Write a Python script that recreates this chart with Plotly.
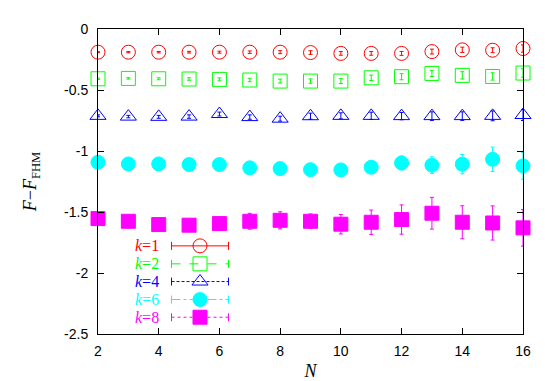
import plotly.graph_objects as go

N = list(range(2, 17))
k_labels = ["1", "2", "4", "6", "8"]
colors = ["#ff0000", "#00ff00", "#0000ff", "#00ffff", "#ff00ff"]
symbols = ["circle-open", "square-open", "triangle-up-open", "circle", "square"]
dashes = ["solid", "dash", "3px,2px", "dashdot", "dot"]

y_k1 = [-0.19, -0.19, -0.19, -0.19, -0.19, -0.19, -0.19, -0.193, -0.20, -0.20, -0.20, -0.185, -0.171, -0.174, -0.16]
e_k1 = [0.004, 0.005, 0.006, 0.007, 0.008, 0.010, 0.012, 0.015, 0.015, 0.015, 0.016, 0.02, 0.022, 0.02, 0.03]
y_k2 = [-0.408, -0.405, -0.408, -0.41, -0.413, -0.418, -0.427, -0.427, -0.427, -0.40, -0.391, -0.364, -0.38, -0.389, -0.361]
e_k2 = [0.005, 0.006, 0.008, 0.01, 0.012, 0.014, 0.016, 0.018, 0.02, 0.022, 0.025, 0.025, 0.03, 0.03, 0.035]
y_k4 = [-0.712, -0.718, -0.72, -0.718, -0.697, -0.722, -0.735, -0.715, -0.712, -0.712, -0.714, -0.714, -0.714, -0.712, -0.705]
e_k4 = [0.008, 0.01, 0.012, 0.014, 0.016, 0.018, 0.02, 0.025, 0.025, 0.03, 0.03, 0.035, 0.035, 0.04, 0.045]
y_k6 = [-1.092, -1.106, -1.106, -1.111, -1.111, -1.138, -1.144, -1.153, -1.155, -1.133, -1.098, -1.116, -1.108, -1.068, -1.122]
e_k6 = [0.01, 0.012, 0.015, 0.018, 0.02, 0.022, 0.025, 0.03, 0.035, 0.04, 0.057, 0.068, 0.079, 0.10, 0.11]
y_k8 = [-1.554, -1.576, -1.603, -1.608, -1.595, -1.576, -1.568, -1.576, -1.60, -1.584, -1.562, -1.51, -1.584, -1.59, -1.63]
e_k8 = [0.02, 0.03, 0.035, 0.04, 0.05, 0.065, 0.07, 0.06, 0.08, 0.10, 0.12, 0.13, 0.135, 0.14, 0.15]

x_ticks = [2, 4, 6, 8, 10, 12, 14, 16]
y_ticks = [0, -0.5, -1, -1.5, -2, -2.5]
y_ticktext = ["0", "-0.5", "-1", "-1.5", "-2", "-2.5"]

series_y = [y_k1, y_k2, y_k4, y_k6, y_k8]
series_e = [e_k1, e_k2, e_k4, e_k6, e_k8]

fig = go.Figure()
for i in range(5):
    fig.add_trace(go.Scatter(
        x=N, y=series_y[i], mode="markers",
        marker=dict(symbol=symbols[i], size=14, color=colors[i],
                    line=dict(width=1, color=colors[i])),
        error_y=dict(type="data", array=series_e[i], color=colors[i], thickness=1, width=2),
        showlegend=False, cliponaxis=False,
    ))

# manual legend on hidden overlay axes (0..1 units)
leg_rows = [0.289, 0.230, 0.172, 0.113, 0.055]
lx0, lx1, lxm = 0.173, 0.307, 0.24
for i in range(5):
    fig.add_trace(go.Scatter(
        x=[lx0, lx1], y=[leg_rows[i], leg_rows[i]], mode="lines",
        line=dict(color=colors[i], width=1, dash=dashes[i]),
        error_y=dict(type="constant", value=0.013, color=colors[i], thickness=1, width=0),
        xaxis="x2", yaxis="y2", showlegend=False, hoverinfo="skip",
    ))
    fig.add_trace(go.Scatter(
        x=[lxm], y=[leg_rows[i]], mode="markers",
        marker=dict(symbol=symbols[i], size=14, color=colors[i],
                    line=dict(width=1, color=colors[i])),
        xaxis="x2", yaxis="y2", showlegend=False, hoverinfo="skip",
    ))
    fig.add_annotation(
        x=0.145, y=leg_rows[i], xref="paper", yref="paper", xanchor="right", yanchor="middle",
        text="<i>k</i>=" + k_labels[i], showarrow=False, borderpad=0,
        font=dict(family="Liberation Serif", size=16, color=colors[i]),
    )

axis_common = dict(showline=True, linecolor="black", linewidth=1, mirror="allticks",
                   ticks="inside", ticklen=6, tickcolor="black", showgrid=False, zeroline=False,
                   tickfont=dict(family="Liberation Sans", size=14, color="black"))

fig.update_layout(
    width=545, height=381,
    margin=dict(l=90, r=30, t=21, b=53),
    plot_bgcolor="white", paper_bgcolor="white",
    xaxis=dict(range=[2, 16], tickvals=x_ticks, ticktext=[str(v) for v in x_ticks],
               title=dict(text="<i>N</i>", font=dict(family="Liberation Serif", size=18, color="black"), standoff=6),
               ticklabelstandoff=4, **axis_common),
    yaxis=dict(range=[-2.5, 0], tickvals=y_ticks, ticktext=y_ticktext,
               title=dict(text="<i>F</i>−<i>F</i><sub>FHM</sub>", font=dict(family="Liberation Serif", size=18, color="black"), standoff=22),
               ticklabelstandoff=6, **axis_common),
    xaxis2=dict(range=[0, 1], overlaying="x", visible=False),
    yaxis2=dict(range=[0, 1], overlaying="y", visible=False),
)

fig.write_html("out.html")
